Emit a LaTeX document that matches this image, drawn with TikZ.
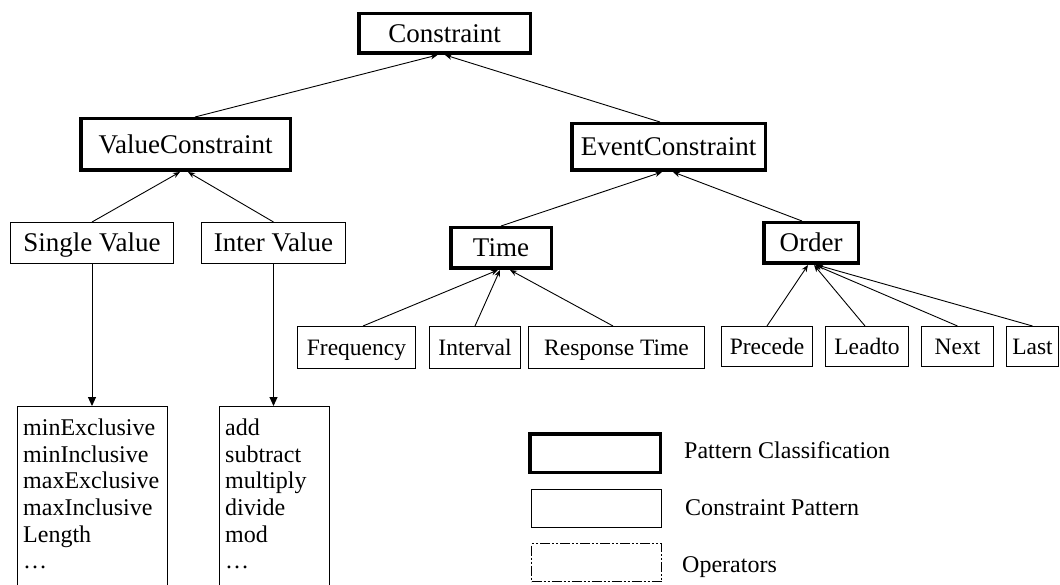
\documentclass[tikz,border=0pt]{standalone}
\usepackage{fontspec}
\setmainfont{Liberation Serif}
\usetikzlibrary{arrows.meta}
\begin{document}
\begin{tikzpicture}[x=1pt,y=-1pt,
  cls/.style={draw, line width=3.5pt, inner sep=0pt, text height=20pt, text depth=2.5pt, font=\fontsize{27}{30}\selectfont},
  pat/.style={draw, line width=1pt, inner sep=0pt, text height=20pt, text depth=2.5pt, font=\fontsize{27}{30}\selectfont},
  leaf/.style={pat, text height=17.5pt, text depth=2.2pt, font=\fontsize{23.5}{28}\selectfont},
  opbox/.style={draw, line width=1pt, inner sep=0pt},
  opleg/.style={draw, line width=1.5pt, inner sep=0pt, dash pattern=on 10pt off 2pt on 2pt off 2pt on 2pt off 2pt},
  listtext/.style={inner sep=0pt, align=left, font=\fontsize{24}{26.7}\selectfont},
  legtext/.style={inner sep=0pt, font=\fontsize{24}{28}\selectfont},
  up/.style={line width=0.9pt, -{Stealth[length=7pt,width=5.5pt]}},
  down/.style={line width=1pt, -{Triangle[length=9pt,width=8pt]}}]
\useasboundingbox (0,0) rectangle (1060,585);
\clip (0,0) rectangle (1060,585);

% classification nodes
\node[cls, minimum width=171.5, minimum height=39.5] (c) at (444.5,33.5) {Constraint};
\node[cls, minimum width=209.5, minimum height=51.5] (vc) at (185.5,144.5) {ValueConstraint};
\node[cls, minimum width=193.5, minimum height=46.5] (ec) at (668.5,147) {EventConstraint};
\node[pat, minimum width=163, minimum height=41] (sv) at (92,243) {Single Value};
\node[pat, minimum width=144, minimum height=41] (iv) at (273.5,243) {Inter Value};
\node[cls, minimum width=100.5, minimum height=40.5] (time) at (501,248) {Time};
\node[cls, minimum width=94.5, minimum height=40.5] (order) at (811,243) {Order};

% leaves
\node[leaf, minimum width=118, minimum height=42] (freq) at (356.5,347.5) {Frequency};
\node[leaf, minimum width=91, minimum height=42] (intv) at (475,347.5) {Interval};
\node[leaf, minimum width=176, minimum height=42] (resp) at (616.5,347.5) {Response Time};
\node[leaf, minimum width=91, minimum height=40] (prec) at (767,346.5) {Precede};
\node[leaf, minimum width=83, minimum height=40] (lead) at (867,346.5) {Leadto};
\node[leaf, minimum width=72, minimum height=40] (next) at (957.5,346.5) {Next};
\node[leaf, minimum width=52, minimum height=40] (last) at (1032.5,346.5) {Last};

% operator boxes
\node[opbox, minimum width=150, minimum height=220, anchor=north west] (ops1) at (17,406) {};
\node[listtext, anchor=north west] (ops1t) at (23,418.5) {minExclusive\\minInclusive\\maxExclusive\\maxInclusive\\Length\\\ldots};
\node[opbox, minimum width=110, minimum height=220, anchor=north west] (ops2) at (219,406) {};
\node[listtext, anchor=north west] (ops2t) at (225,418.5) {add\\subtract\\multiply\\divide\\mod\\\ldots};

% connectors
\draw[up] ([xshift=9.5pt]vc.north) -- ([xshift=-7pt]c.south);
\draw[up] ([xshift=-8.5pt]ec.north) -- ([xshift=0.5pt]c.south);
\draw[up] (sv.north) -- ([xshift=-5.5pt]vc.south);
\draw[up] (iv.north) -- ([xshift=2.5pt]vc.south);
\draw[up] (time.north) -- ([xshift=-6.5pt]ec.south);
\draw[up] ([xshift=-9pt]order.north) -- ([xshift=4.5pt]ec.south);
\draw[up] ([xshift=6.5pt]freq.north) -- ([xshift=-3pt]time.south);
\draw[up] (intv.north) -- ([xshift=-1pt]time.south);
\draw[up] ([xshift=-3.5pt]resp.north) -- ([xshift=9pt]time.south);
\draw[up] (prec.north) -- ([xshift=-3pt]order.south);
\draw[up] ([xshift=-2pt]lead.north) -- ([xshift=3pt]order.south);
\draw[up] (next.north) -- ([xshift=4pt]order.south);
\draw[up] (last.north) -- ([xshift=6pt]order.south);
\draw[down] (sv.south) -- (sv.south |- ops1.north);
\draw[down] (iv.south) -- (iv.south |- ops2.north);

% legend
\node[cls, minimum width=130.5, minimum height=38.5] (lg1) at (595,453) {};
\node[pat, minimum width=130, minimum height=38] (lg2) at (596.5,508.5) {};
\node[opleg, minimum width=130, minimum height=38] (lg3) at (596.5,562.5) {};
\node[legtext, anchor=west] (lt1) at (684,450) {Pattern Classification};
\node[legtext, anchor=west] (lt2) at (685,508) {Constraint Pattern};
\node[legtext, anchor=west] (lt3) at (682,567) {Operators};
\end{tikzpicture}
\end{document}
